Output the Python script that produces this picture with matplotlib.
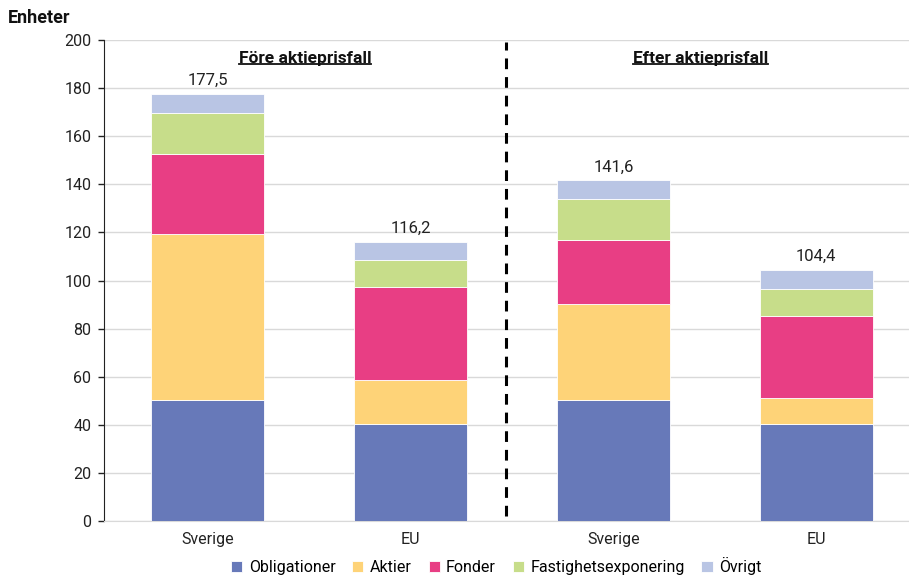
import matplotlib.pyplot as plt
import numpy as np

plt.rcParams['font.family'] = ['Roboto', 'DejaVu Sans']

# Stacked values per group (units)
groups = ['Sverige', 'EU', 'Sverige', 'EU']
obligationer = [50.5, 40.4, 50.5, 40.4]
aktier = [69.0, 18.3, 39.9, 10.7]
fonder = [33.3, 38.8, 26.6, 34.3]
fastighet = [16.8, 11.1, 16.8, 11.2]
ovrigt = [7.9, 7.6, 7.8, 7.8]

series_names = ['Obligationer', 'Aktier', 'Fonder', 'Fastighetsexponering', 'Övrigt']
series = [obligationer, aktier, fonder, fastighet, ovrigt]
colors = ['#6779b9', '#fed378', '#e83e84', '#c7dd8a', '#b9c5e4']

fig = plt.figure(figsize=(9.09, 5.75), dpi=100)
ax = fig.add_axes([0.1144, 0.0939, 0.8856, 0.8365])

x = np.arange(len(groups))
bottom = np.zeros(len(groups))
handles = []
for name, vals, col in zip(series_names, series, colors):
    b = ax.bar(x, vals, 0.556, bottom=bottom, color=col, edgecolor='white',
               linewidth=0.6, label=name, zorder=3)
    handles.append(b)
    bottom += np.array(vals)

# totals above each stack
for xi, tot in zip(x, bottom):
    ax.text(xi, tot + 2.5, f'{tot:.1f}'.replace('.', ','), ha='center',
            va='bottom', fontsize=12, color='#222222')

ax.set_ylim(0, 200)
ax.set_xlim(-0.512, 3.458)
ax.set_yticks(np.arange(0, 201, 20))
ax.set_xticks(x)
ax.set_xticklabels(groups)
ax.tick_params(axis='y', length=4, width=1, labelsize=11.5, pad=5, colors='#222222')
ax.tick_params(axis='x', length=0, labelsize=11.5, pad=8, colors='#222222')
ax.grid(axis='y', color='#d9d9d9', linewidth=1, zorder=0)
for s in ['top', 'right']:
    ax.spines[s].set_visible(False)
ax.spines['bottom'].set_color('#d9d9d9')
ax.spines['left'].set_color('#222222')

# separator between the two scenarios
ax.axvline(1.473, ymin=0.01, ymax=0.995, color='black', linewidth=2.2,
           linestyle=(0, (3.5, 2.6)), zorder=4)

headers = [
    ax.text(0.48, 192.5, 'Före aktieprisfall', ha='center', va='center',
            fontsize=12.5, fontweight='bold', color='#111111'),
    ax.text(2.43, 192.5, 'Efter aktieprisfall', ha='center', va='center',
            fontsize=12.5, fontweight='bold', color='#111111'),
]

fig.text(0.009, 1 - 18 / 575, 'Enheter', ha='left', va='center',
         fontsize=13, fontweight='bold', color='#111111')

fig.legend(handles=handles, loc='center', bbox_to_anchor=(0.546, 1 - 566 / 575),
           ncol=5, frameon=False, fontsize=11.5, handlelength=0.7,
           handleheight=0.7, handletextpad=0.4, columnspacing=1.05)

# underline the section headers
fig.canvas.draw()
renderer = fig.canvas.get_renderer()
inv = fig.transFigure.inverted()
for t in headers:
    bb = t.get_window_extent(renderer)
    (x0, y0), (x1, _) = inv.transform([(bb.x0, bb.y0), (bb.x1, bb.y1)])
    fig.add_artist(plt.Line2D([x0, x1], [y0 + 0.002, y0 + 0.002],
                              color='#111111', linewidth=1.3))

fig.savefig('out.png', dpi=100)
